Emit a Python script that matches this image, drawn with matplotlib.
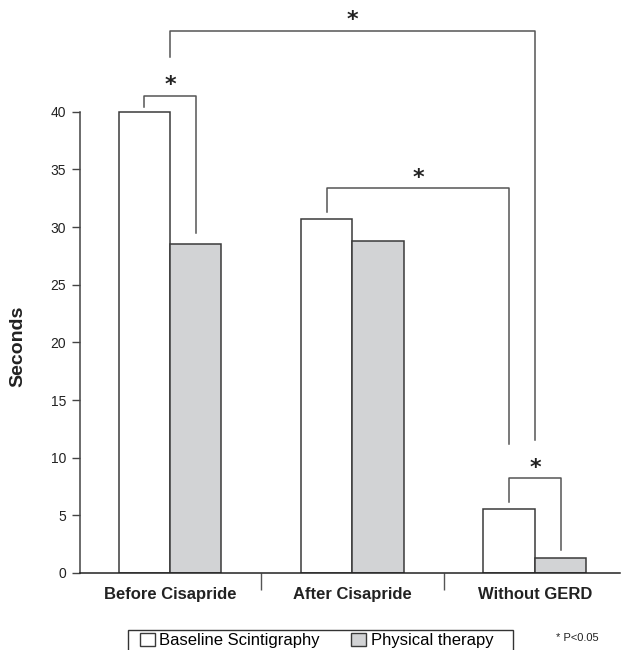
import matplotlib
matplotlib.use("Agg")
import matplotlib.pyplot as plt
from matplotlib.patches import Patch, Rectangle
import numpy as np

plt.rcParams['font.family'] = ['Liberation Sans', 'DejaVu Sans']

categories = ["Before Cisapride", "After Cisapride", "Without GERD"]
baseline = [40.0, 30.7, 5.55]
physical = [28.5, 28.8, 1.27]
series_names = ["Baseline Scintigraphy", "Physical therapy"]
yticks = [0, 5, 10, 15, 20, 25, 30, 35, 40]

# significance brackets: (left x, right x, top, left leg end, right leg end, star y)
brackets = [
    (-0.141, 0.141, 41.4, 40.4, 29.5, 42.3),
    (0.0, 2.0, 47.0, 44.75, 11.5, 48.0),
    (0.859, 1.859, 33.4, 31.3, 11.2, 34.3),
    (1.859, 2.141, 8.2, 6.2, 2.0, 9.1),
]

edge = '#3a3a3a'
gray = '#d2d3d5'
w = 0.282

fig = plt.figure(figsize=(6.22, 6.5), dpi=100)
ax = fig.add_axes([80/622, 77/650, 540/622, 573/650])

x = np.arange(len(categories))
ax.bar(x - w/2, baseline, w, color='white', edgecolor=edge, lw=1.1)
ax.bar(x + w/2, physical, w, color=gray, edgecolor=edge, lw=1.1)

for x1, x2, top, l_end, r_end, sy in brackets:
    ax.plot([x1, x1, x2, x2], [l_end, top, top, r_end], color='#555555', lw=1.1,
            clip_on=False)
    ax.text((x1 + x2)/2, sy, "*", ha='center', va='center', fontsize=16,
            fontweight='bold', fontfamily='DejaVu Sans', color='#222222')

ax.set_xlim(-0.493, 2.466)
ax.set_ylim(0, 49.7)
ax.spines['top'].set_visible(False)
ax.spines['right'].set_visible(False)
ax.spines['left'].set_bounds(0, 40)
ax.spines['left'].set_color('#444444')
ax.spines['bottom'].set_color('#222222')
ax.spines['left'].set_linewidth(1.1)
ax.spines['bottom'].set_linewidth(1.1)

ax.set_yticks(yticks)
ax.tick_params(axis='y', length=6, width=1.0, color='#444444', labelsize=10,
               labelcolor='#222222', pad=4)
ax.set_xticks(x)
ax.set_xticklabels(categories, fontsize=12, fontweight='bold', color='#222222')
ax.tick_params(axis='x', which='major', length=0, pad=10)
ax.set_xticks([0.5, 1.5], minor=True)
ax.tick_params(axis='x', which='minor', length=12, width=1.0, color='#555555')

fig.text(18/622, 1 - 346/650, "Seconds", rotation=90, ha='center', va='center',
         fontsize=14, fontweight='bold', color='#222222')

# legend frame, running off the bottom edge as in the original
fig.patches.append(Rectangle((128/622, -10/650), 385/622, 30/650,
                             transform=fig.transFigure, facecolor='none',
                             edgecolor='#333333', lw=1.0))
handles = [Patch(facecolor='white', edgecolor=edge, lw=1.0),
           Patch(facecolor=gray, edgecolor=edge, lw=1.0)]
leg = fig.legend(handles, series_names, loc='upper left', ncol=2,
                 bbox_to_anchor=(140/622, 17.5/650),
                 fontsize=12, frameon=False, handlelength=0.9,
                 handleheight=0.9, handletextpad=0.25, borderpad=0.0,
                 borderaxespad=0.0, columnspacing=1.9)

fig.text(577/622, 12/650, "* P<0.05", ha='center', va='center', fontsize=8,
         color='#222222')

fig.savefig("out.png", dpi=100)
